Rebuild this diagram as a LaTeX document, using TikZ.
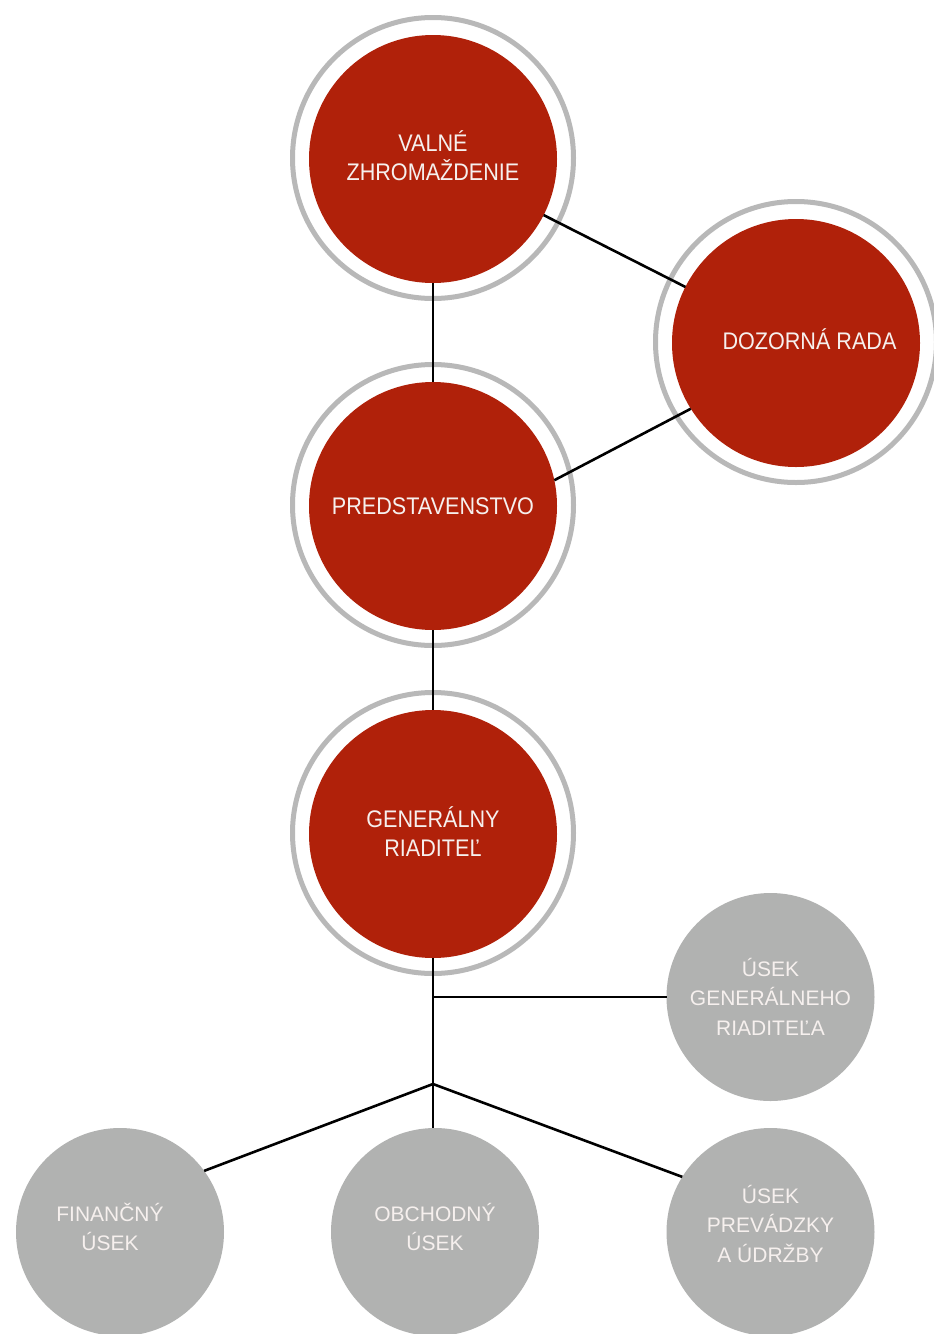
\documentclass[tikz,border=0pt]{standalone}
\usepackage{fontspec}
\setmainfont{Liberation Sans}
\newfontfamily\redfont{Liberation Sans}[FakeStretch=0.9]
\newfontfamily\grayfont{Liberation Sans}
\definecolor{boardred}{RGB}{176,33,10}
\definecolor{ringgray}{RGB}{184,184,184}
\definecolor{unitgray}{RGB}{177,178,177}
\definecolor{txtwhite}{RGB}{246,240,238}
% lift a centred block of lines by #1 without changing its box
\newcommand\liftlines[2]{\raisebox{#1}[\height][\depth]{\begin{tabular}{@{}c@{}}#2\end{tabular}}}
\tikzset{
  ring/.style={circle, draw=ringgray, line width=5pt, minimum size=281pt, inner sep=0pt, outer sep=0pt},
  board/.style={circle, fill=boardred, minimum size=248pt, inner sep=0pt, outer sep=0pt,
    text=txtwhite, align=center, font=\redfont\fontsize{24}{29}\selectfont},
  unit/.style={circle, fill=unitgray, minimum size=208pt, inner sep=0pt, outer sep=0pt,
    text=txtwhite, align=center, font=\grayfont\fontsize{21}{29.5}\selectfont},
  link/.style={black, line width=2.6pt}
}
\begin{document}
\begin{tikzpicture}[x=1pt, y=-1pt]
\clip (0,0) rectangle (934,1334);
\fill[white] (0,0) rectangle (934,1334);
% rings
\node[ring] (vzr) at (433,158) {};
\node[ring] (drr) at (796,342) {};
\node[ring] (pr)  at (433,505) {};
\node[ring] (grr) at (433,833) {};
% red bodies
\node[board] (vz) at (433,159) {\liftlines{-1pt}{VALNÉ\\ZHROMAŽDENIE}};
\node[board] (dr) at (796,343) {\hspace*{27pt}\liftlines{0pt}{DOZORNÁ RADA}};
\node[board] (p)  at (433,506) {PREDSTAVENSTVO};
\node[board] (gr) at (433,834) {\liftlines{-2pt}{GENERÁLNY\\RIADITEĽ}};
% units
\node[unit] (ugr)  at (770.5,997) {\liftlines{-3pt}{ÚSEK\\GENERÁLNEHO\\RIADITEĽA}};
\node[unit] (fin)  at (120,1232) {\liftlines{2pt}{FINANČNÝ\\ÚSEK}\hspace*{20pt}};
\node[unit] (obch) at (435,1232) {\liftlines{2pt}{OBCHODNÝ\\ÚSEK}};
\node[unit] (prev) at (770.5,1232) {\liftlines{5pt}{ÚSEK\\PREVÁDZKY\\A ÚDRŽBY}};
% junctions
\coordinate (br) at (433,997);
\coordinate (jn) at (433,1084);
% connectors
\draw[link] (vz) -- (dr);
\draw[link] (dr.212) -- (p.12);
\draw[link] (vz) -- (p);
\draw[link] (p) -- (gr);
\draw[link] (gr) -- (jn);
\draw[link] (br) -- (ugr);
\draw[link] (jn) -- (fin.36);
\draw[link] (jn) -- (jn |- obch.north);
\draw[link] (jn) -- (prev.148);
\end{tikzpicture}
\end{document}
